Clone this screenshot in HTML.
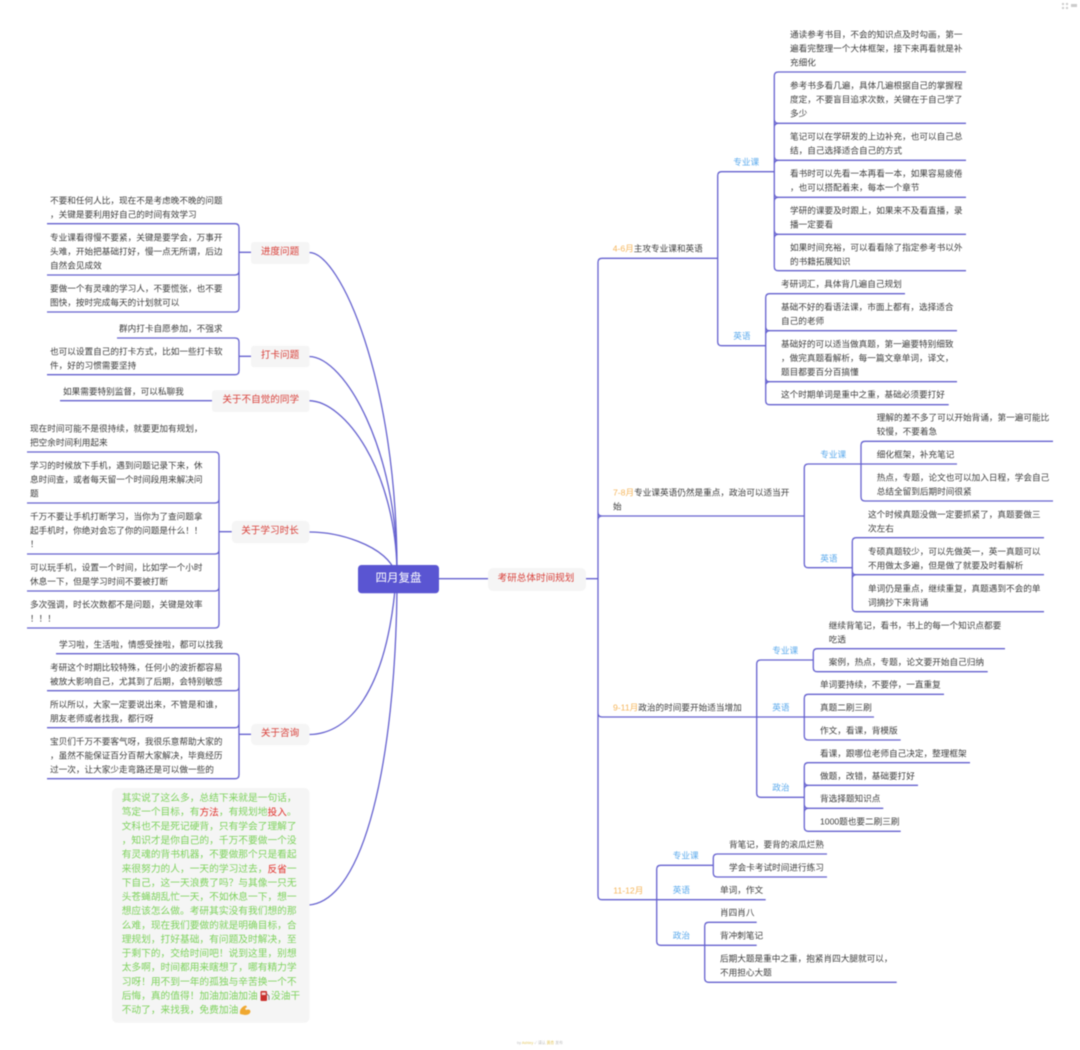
<!DOCTYPE html>
<html lang="zh">
<head>
<meta charset="utf-8">
<title>四月复盘</title>
<style>
html,body{margin:0;padding:0;background:#fff;width:1080px;height:1050px;overflow:hidden}
svg{display:block;filter:blur(.4px)}
text{font-family:"Liberation Sans","Noto Sans CJK SC",sans-serif;dominant-baseline:central;white-space:pre}
.t text{font-size:8.65px;fill:#3c3c3c}
.b text{font-size:8.65px;fill:#5aa9ec}
.r text{font-size:9.6px;fill:#d8403a;text-anchor:middle}
.g text{font-size:9.72px;fill:#7dd25c}
.o{fill:#f5b55a}
.rd{fill:#e0312b}
path{fill:none;stroke:#6561cf;stroke-width:1.3}
</style>
</head>
<body>
<svg width="1080" height="1050" viewBox="0 0 1080 1050" xmlns="http://www.w3.org/2000/svg">
<!-- main curves -->
<path d="M309 252.5C340 252 397 380 397 570"/>
<path d="M309 356.5C345 357 397 450 397 570"/>
<path d="M309 400.7C345 401 395 470 397 570"/>
<path d="M309 532C340 532 380 545 393 567"/>
<path d="M309 734.5C350 734 385 690 395 590"/>
<path d="M309 905C365 900 395 760 397 590"/>
<path d="M438 578.7H488M585 578.7H598"/>

<!-- left brackets -->
<path d="M47 223.7H235Q239 223.7 239 227.7V271Q239 275 235 275H47M239 271Q239 275 239 279V308Q239 312 235 312H47M239 252.3H251"/>
<path d="M117 338H235Q239 338 239 342V370.7Q239 374.7 235 374.7H47M239 356.3H251"/>
<path d="M60 400.7H212"/>
<path d="M27 452H215Q219 452 219 456V499Q219 503 215 503H27M219 499Q219 503 219 507V550Q219 554 215 554H27M219 550Q219 554 219 558V587Q219 591 215 591H27M219 587Q219 591 219 595V624Q219 628 215 628H27M219 531.7H232"/>
<path d="M56 653.7H235Q239 653.7 239 657.7V686.7Q239 690.7 235 690.7H47M239 686.7Q239 690.7 239 694.7V723.7Q239 727.7 235 727.7H47M239 723.7Q239 727.7 239 731.7V774.7Q239 778.7 235 778.7H47M239 734.3H251"/>

<!-- right main bracket -->
<path d="M717.7 258.3H602Q598 258.3 598 262.3V895.7Q598 899.7 602 899.7H765.7M804.3 516H602Q598 516 598 520M598 512Q598 516 602 516M874 717H602Q598 717 598 713"/>

<!-- 4-6 -->
<path d="M774.3 171.7H721.7Q717.7 171.7 717.7 175.7V341.7Q717.7 345.7 721.7 345.7H765.7"/>
<path d="M966 72H778.3Q774.3 72 774.3 76V266.7Q774.3 270.7 778.3 270.7H966M966 123.3H778.3Q774.3 123.3 774.3 127.3M778.3 123.3Q774.3 123.3 774.3 119.3M966 160.3H778.3Q774.3 160.3 774.3 164.3M778.3 160.3Q774.3 160.3 774.3 156.3M966 197.3H778.3Q774.3 197.3 774.3 201.3M778.3 197.3Q774.3 197.3 774.3 193.3M966 234.3H778.3Q774.3 234.3 774.3 238.3M778.3 234.3Q774.3 234.3 774.3 230.3"/>
<path d="M905 293.7H769.7Q765.7 293.7 765.7 297.7V400.7Q765.7 404.7 769.7 404.7H948.7M957 330.7H769.7Q765.7 330.7 765.7 334.7M769.7 330.7Q765.7 330.7 765.7 326.7M957 381.7H769.7Q765.7 381.7 765.7 385.7M769.7 381.7Q765.7 381.7 765.7 377.7"/>

<!-- 7-8 -->
<path d="M957 464H808.3Q804.3 464 804.3 468V563.7Q804.3 567.7 808.3 567.7H852.3"/>
<path d="M1053 441.3H865Q861 441.3 861 445.3V497Q861 501 865 501H1053"/>
<path d="M1044 537.7H856.3Q852.3 537.7 852.3 541.7V607.7Q852.3 611.7 856.3 611.7H1044M1044 574.7H856.3Q852.3 574.7 852.3 578.7M856.3 574.7Q852.3 574.7 852.3 570.7"/>

<!-- 9-11 -->
<path d="M813.3 660H760.7Q756.7 660 756.7 664V793.3Q756.7 797.3 760.7 797.3H804.3"/>
<path d="M1005 648.7H817.3Q813.3 648.7 813.3 652.7V667.7Q813.3 671.7 817.3 671.7H987.7"/>
<path d="M944 694.3H808.3Q804.3 694.3 804.3 698.3V736Q804.3 740 808.3 740H900.7"/>
<path d="M970 762.7H808.3Q804.3 762.7 804.3 766.7V827.3Q804.3 831.3 808.3 831.3H900.7M918 785.3H808.3Q804.3 785.3 804.3 789.3M808.3 785.3Q804.3 785.3 804.3 781.3M883.3 808.3H808.3Q804.3 808.3 804.3 812.3M808.3 808.3Q804.3 808.3 804.3 804.3"/>

<!-- 11-12 -->
<path d="M713.3 865.3H660.7Q656.7 865.3 656.7 869.3V941.3Q656.7 945.3 660.7 945.3H756.7"/>
<path d="M827 854H717.3Q713.3 854 713.3 858V873Q713.3 877 717.3 877H827"/>
<path d="M756.7 922.3H708.7Q704.7 922.3 704.7 926.3V978.3Q704.7 982.3 708.7 982.3H896.7"/>

<!-- nodes -->
<rect x="358" y="565" width="81" height="28.3" rx="3.5" fill="#5a55d2"/>
<text x="398.5" y="578.5" font-size="11.5" fill="#fff" text-anchor="middle">四月复盘</text>
<g fill="#f5f5f5">
<rect x="488" y="568" width="98" height="23" rx="5"/>
<rect x="251" y="242" width="58.5" height="22" rx="3"/>
<rect x="251" y="345.7" width="58.5" height="21.6" rx="3"/>
<rect x="212" y="390.3" width="97.5" height="21.7" rx="3"/>
<rect x="231.7" y="520.7" width="77.8" height="22.6" rx="5"/>
<rect x="251" y="723.7" width="58.5" height="21.6" rx="5"/>
<rect x="112" y="788" width="197.5" height="234.7" rx="5"/>
</g>
<g class="r">
<text x="536" y="578.3">考研总体时间规划</text>
<text x="280" y="252">进度问题</text>
<text x="280" y="355.6">打卡问题</text>
<text x="260.7" y="400">关于不自觉的同学</text>
<text x="270" y="531">关于学习时长</text>
<text x="280" y="733.6">关于咨询</text>
</g>

<g transform="translate(0,.3)">
<!-- left text -->
<g class="t">
<text x="50" y="200.3">不要和任何人比，现在不是考虑晚不晚的问题</text>
<text x="50" y="214">，关键是要利用好自己的时间有效学习</text>
<text x="50" y="237.3">专业课看得慢不要紧，关键是要学会，万事开</text>
<text x="50" y="251">头难，开始把基础打好，慢一点无所谓，后边</text>
<text x="50" y="265">自然会见成效</text>
<text x="50" y="288.3">要做一个有灵魂的学习人，不要慌张，也不要</text>
<text x="50" y="302">图快，按时完成每天的计划就可以</text>
<text x="119" y="328.3">群内打卡自愿参加，不强求</text>
<text x="50" y="351.3">也可以设置自己的打卡方式，比如一些打卡软</text>
<text x="50" y="365">件，好的习惯需要坚持</text>
<text x="63" y="391.3">如果需要特别监督，可以私聊我</text>
<text x="30" y="428.3">现在时间可能不是很持续，就要更加有规划，</text>
<text x="30" y="442">把空余时间利用起来</text>
<text x="30" y="465.3">学习的时候放下手机，遇到问题记录下来，休</text>
<text x="30" y="479">息时间查，或者每天留一个时间段用来解决问</text>
<text x="30" y="493">题</text>
<text x="30" y="516">千万不要让手机打断学习，当你为了查问题拿</text>
<text x="30" y="530">起手机时，你绝对会忘了你的问题是什么！！</text>
<text x="30" y="543.7">！</text>
<text x="30" y="567">可以玩手机，设置一个时间，比如学一个小时</text>
<text x="30" y="581">休息一下，但是学习时间不要被打断</text>
<text x="30" y="604.3">多次强调，时长次数都不是问题，关键是效率</text>
<text x="30" y="618">！！！</text>
<text x="59" y="644">学习啦，生活啦，情感受挫啦，都可以找我</text>
<text x="50" y="667">考研这个时期比较特殊，任何小的波折都容易</text>
<text x="50" y="681">被放大影响自己，尤其到了后期，会特别敏感</text>
<text x="50" y="704.3">所以所以，大家一定要说出来，不管是和谁，</text>
<text x="50" y="718">朋友老师或者找我，都行呀</text>
<text x="50" y="741">宝贝们千万不要客气呀，我很乐意帮助大家的</text>
<text x="50" y="755">，虽然不能保证百分百帮大家解决，毕竟经历</text>
<text x="50" y="769">过一次，让大家少走弯路还是可以做一些的</text>

<!-- right text -->
<text x="612.7" y="248.3"><tspan class="o">4-6月</tspan>主攻专业课和英语</text>
<text x="613" y="492.3"><tspan class="o">7-8月</tspan>专业课英语仍然是重点，政治可以适当开</text>
<text x="613" y="506.3">始</text>
<text x="613" y="707.3"><tspan class="o">9-11月</tspan>政治的时间要开始适当增加</text>
<text x="613.3" y="890" class="o" style="fill:#f5b55a">11-12月</text>

<text x="790" y="34">通读参考书目，不会的知识点及时勾画，第一</text>
<text x="790" y="48">遍看完整理一个大体框架，接下来再看就是补</text>
<text x="790" y="62">充细化</text>
<text x="790" y="85.3">参考书多看几遍，具体几遍根据自己的掌握程</text>
<text x="790" y="99">度定，不要盲目追求次数，关键在于自己学了</text>
<text x="790" y="113">多少</text>
<text x="790" y="136.3">笔记可以在学研发的上边补充，也可以自己总</text>
<text x="790" y="150">结，自己选择适合自己的方式</text>
<text x="790" y="173.3">看书时可以先看一本再看一本，如果容易疲倦</text>
<text x="790" y="187">，也可以搭配着来，每本一个章节</text>
<text x="790" y="210.3">学研的课要及时跟上，如果来不及看直播，录</text>
<text x="790" y="224.3">播一定要看</text>
<text x="790" y="247.3">如果时间充裕，可以看看除了指定参考书以外</text>
<text x="790" y="261">的书籍拓展知识</text>

<text x="781" y="283.7">考研词汇，具体背几遍自己规划</text>
<text x="781" y="306.7">基础不好的看语法课，市面上都有，选择适合</text>
<text x="781" y="320.5">自己的老师</text>
<text x="781" y="343.7">基础好的可以适当做真题，第一遍要特别细致</text>
<text x="781" y="357.5">，做完真题看解析，每一篇文章单词，译文，</text>
<text x="781" y="371.5">题目都要百分百搞懂</text>
<text x="781" y="394.3">这个时期单词是重中之重，基础必须要打好</text>

<text x="876.7" y="417.3">理解的差不多了可以开始背诵，第一遍可能比</text>
<text x="876.7" y="431.3">较慢，不要着急</text>
<text x="876.7" y="454.3">细化框架，补充笔记</text>
<text x="876.7" y="477.3">热点，专题，论文也可以加入日程，学会自己</text>
<text x="876.7" y="491">总结全留到后期时间很紧</text>
<text x="868" y="514.3">这个时候真题没做一定要抓紧了，真题要做三</text>
<text x="868" y="528">次左右</text>
<text x="868" y="551">专硕真题较少，可以先做英一，英一真题可以</text>
<text x="868" y="565">不用做太多遍，但是做了就要及时看解析</text>
<text x="868" y="588">单词仍是重点，继续重复，真题遇到不会的单</text>
<text x="868" y="602">词摘抄下来背诵</text>

<text x="828.7" y="625">继续背笔记，看书，书上的每一个知识点都要</text>
<text x="828.7" y="639">吃透</text>
<text x="828.7" y="661.7">案例，热点，专题，论文要开始自己归纳</text>
<text x="820" y="684.3">单词要持续，不要停，一直重复</text>
<text x="820" y="707.3">真题二刷三刷</text>
<text x="820" y="730.3">作文，看课，背模版</text>
<text x="820" y="753">看课，跟哪位老师自己决定，整理框架</text>
<text x="820" y="775.7">做题，改错，基础要打好</text>
<text x="820" y="798.3">背选择题知识点</text>
<text x="820" y="821.3">1000题也要二刷三刷</text>

<text x="729" y="844">背笔记，要背的滚瓜烂熟</text>
<text x="729" y="867">学会卡考试时间进行练习</text>
<text x="720" y="889.7">单词，作文</text>
<text x="720" y="912.3">肖四肖八</text>
<text x="720" y="935.3">背冲刺笔记</text>
<text x="720" y="958.3">后期大题是重中之重，抱紧肖四大腿就可以，</text>
<text x="720" y="972">不用担心大题</text>
</g>

<g class="b">
<text x="733.3" y="161.7">专业课</text>
<text x="733.3" y="335.7">英语</text>
<text x="820.3" y="454">专业课</text>
<text x="820.3" y="558">英语</text>
<text x="772.3" y="650">专业课</text>
<text x="772.3" y="707.3">英语</text>
<text x="772.3" y="787">政治</text>
<text x="672.7" y="855.3">专业课</text>
<text x="672.7" y="889.7">英语</text>
<text x="672.7" y="935.3">政治</text>
</g>

<g class="g">
<text x="121.7" y="798.3">其实说了这么多，总结下来就是一句话，</text>
<text x="121.7" y="812.4">笃定一个目标，有<tspan class="rd">方法</tspan>，有规划地<tspan class="rd">投入</tspan>。</text>
<text x="121.7" y="826.6">文科也不是死记硬背，只有学会了理解了</text>
<text x="121.7" y="840.7">，知识才是你自己的，千万不要做一个没</text>
<text x="121.7" y="854.8">有灵魂的背书机器，不要做那个只是看起</text>
<text x="121.7" y="869">来很努力的人，一天的学习过去，<tspan class="rd">反省</tspan>一</text>
<text x="121.7" y="883.1">下自己，这一天浪费了吗？与其像一只无</text>
<text x="121.7" y="897.2">头苍蝇胡乱忙一天，不如休息一下，想一</text>
<text x="121.7" y="911.3">想应该怎么做。考研其实没有我们想的那</text>
<text x="121.7" y="925.5">么难，现在我们要做的就是明确目标，合</text>
<text x="121.7" y="939.6">理规划，打好基础，有问题及时解决，至</text>
<text x="121.7" y="953.7">于剩下的，交给时间吧！说到这里，别想</text>
<text x="121.7" y="967.9">太多啊，时间都用来瞎想了，哪有精力学</text>
<text x="121.7" y="982">习呀！用不到一年的孤独与辛苦换一个不</text>
<text x="121.7" y="996.1">后悔，真的值得！加油加油加油</text>
<text x="271" y="996.1">没油干</text>
<text x="121.7" y="1010.3">不动了，来找我，免费加油</text>
</g>
</g>

<!-- emoji shapes -->
<rect x="260.5" y="991" width="6.5" height="10" rx="1" fill="#c9302c"/>
<rect x="261.7" y="992.5" width="4" height="2.5" fill="#f3d0cc"/>
<path d="M267 994L269 996V1000" style="stroke:#555;stroke-width:.7"/>
<path d="M240 1014Q239 1009 244 1006L246 1005.5L247 1007L245 1008.5L246 1010Q250 1008.5 250.5 1011.5Q250 1015 245 1015Z" style="fill:#f0a830;stroke:none"/>

<!-- footer and corner marks -->
<text x="517" y="1043" font-size="3.8" fill="#bbb">by <tspan fill="#e3c75f">Ashley</tspan> ✓ 请认 <tspan fill="#e3c75f">黄杏</tspan> 发布</text>
<g fill="#ccc">
<rect x="1062" y="3" width="2" height="2"/><rect x="1066" y="3" width="2" height="2"/>
<rect x="1062" y="7" width="2" height="2"/><rect x="1066" y="7" width="2" height="2"/>
<rect x="1071" y="4" width="6" height="3"/>
</g>
</svg>
</body>
</html>
